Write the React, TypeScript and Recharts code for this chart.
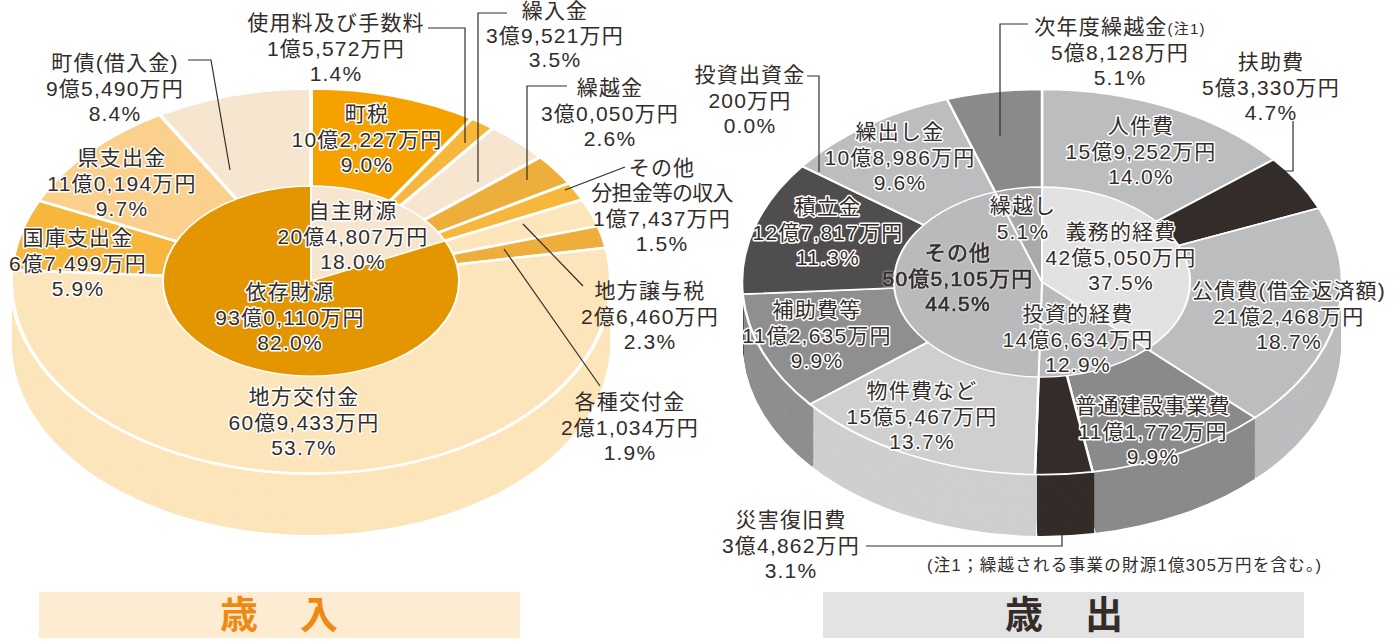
import React from 'react';
import { PieChart, Pie } from 'recharts';

// all amounts in 万円, clockwise from 12 o'clock
const revenueNames = ['町税', '使用料及び手数料', '繰入金', '繰越金', '分担金等の収入', '地方譲与税', '各種交付金', '地方交付金', '国庫支出金', '県支出金', '町債(借入金)'];
const revenueValues = [102227, 15572, 39521, 30050, 17437, 26460, 21034, 609433, 67499, 110194, 95490];
const revenuePercents = ['9.0', '1.4', '3.5', '2.6', '1.5', '2.3', '1.9', '53.7', '5.9', '9.7', '8.4'];
const revenueColors = ['#f5a200', '#f7b63c', '#f6e6d0', '#edae3c', '#f7b63c', '#fde5bb', '#edae3c', '#fde5bb', '#f7b63c', '#fad08c', '#f6e6d0'];

const revenueGroupNames = ['自主財源', '依存財源'];
const revenueGroupValues = [204807, 930110];
const revenueGroupPercents = ['18.0', '82.0'];
const revenueGroupColors = ['#f6e6d0', '#e39600'];

const spendingNames = ['人件費', '扶助費', '公債費(借金返済額)', '普通建設事業費', '災害復旧費', '物件費など', '補助費等', '積立金', '投資出資金', '繰出し金', '次年度繰越金'];
const spendingValues = [159252, 53330, 212468, 111772, 34862, 155467, 112635, 127817, 200, 108986, 58128];
const spendingPercents = ['14.0', '4.7', '18.7', '9.9', '3.1', '13.7', '9.9', '11.3', '0.0', '9.6', '5.1'];
const spendingColors = ['#bcbdbf', '#332c29', '#bcbdbf', '#8a8a8a', '#332c29', '#cfcfcf', '#8f8f8f', '#504d4e', '#504d4e', '#bcbdbf', '#8a8a8a'];

const spendingGroupNames = ['義務的経費', '投資的経費', 'その他', '繰越し'];
const spendingGroupValues = [425050, 146634, 505105, 58128];
const spendingGroupPercents = ['37.5', '12.9', '44.5', '5.1'];
const spendingGroupColors = ['#e2e2e2', '#b9babc', '#b9babc', '#a9a9a9'];

const INK = '#332c29';
const FONT = '"Liberation Sans", "Noto Sans CJK JP", sans-serif';
const SQUASH = 0.642;
const RIM = 299;
const HUB = 148;
const DEPTH = 62; // wall height on screen

const formatYen = (v: number) => {
  const oku = Math.floor(v / 10000);
  const man = v % 10000;
  if (!oku) return `${man}万円`;
  const s = String(man).padStart(4, '0');
  return `${oku}億${s[0]},${s.slice(1)}万円`;
};

const toSlices = (names: string[], values: number[], colors: string[]) =>
  names.map((name, i) => ({ name, value: values[i], fill: colors[i] }));

// label spots, same order as the name arrays
const revenueSpots: any[] = [
  { x: 367, y: 114, halo: true }, { x: 336, y: 23 }, { x: 555, y: 11, gap: 24.5 }, { x: 610, y: 88 },
  { x: 662, y: 193, headSpacing: -0.8 }, { x: 650, y: 291 }, { x: 630, y: 402 }, { x: 304, y: 397, halo: true },
  { x: 78, y: 238, halo: true }, { x: 122, y: 158, halo: true }, { x: 115, y: 63 },
];
const revenueGroupSpots: any[] = [{ x: 353, y: 211, halo: true }, { x: 290, y: 292, halo: true }];
const spendingSpots: any[] = [
  { x: 1141, y: 126, halo: true }, { x: 1271, y: 62 }, { x: 1289, y: 291, halo: true },
  { x: 1153, y: 406, halo: true }, { x: 791, y: 520 }, { x: 922, y: 391, halo: true },
  { x: 817, y: 310, halo: true }, { x: 828, y: 207, halo: true }, { x: 750, y: 75 },
  { x: 900, y: 132, halo: true }, { x: 1120, y: 27 },
];
const spendingGroupSpots: any[] = [
  { x: 1121, y: 232, halo: true }, { x: 1078, y: 314, halo: true }, { x: 958, y: 253, heavy: true }, { x: 1023, y: 206, halo: true },
];

const revenueLeaders = [
  '188,60 211,60 230,170', '428,28 465,28 465,143', '507,13 478,13 478,182', '567,86 527,86 527,180',
  '625,167 565,190', '583,286 523,224', '504,249 600,386',
];
const spendingLeaders = [
  '807,76 819,76 819,172', '1028,24 1000,24 1000,136', '1293,121 1293,171 1281,171', '866,546 1062,546 1062,505',
];

const LINE_GAP = 25.6;

const Block = ({ x, y, lines, halo, heavy, note, gap = LINE_GAP, headSpacing }: {
  x: number; y: number; lines: string[]; halo?: boolean; heavy?: boolean; note?: string; gap?: number; headSpacing?: number;
}) => (
  <text
    textAnchor="middle"
    fontSize={21}
    letterSpacing={1.2}
    fill={INK}
    stroke={heavy ? INK : halo ? '#fff' : 'none'}
    strokeWidth={heavy ? 0.6 : halo ? 3 : 0}
    strokeLinejoin="round"
    style={{ paintOrder: 'stroke', filter: heavy ? 'drop-shadow(0 0 1px #fff)' : undefined }}
  >
    {lines.map((line, i) => (
      <tspan key={i} x={x} y={y + 7 + i * gap} letterSpacing={i === 0 ? headSpacing : undefined}>
        {line}
        {i === 0 && note ? <tspan fontSize={15}>{note}</tspan> : null}
      </tspan>
    ))}
  </text>
);

type Slice = { name: string; value: number; fill: string };

const Disc = ({ cx, screenCy, rim, hub, rimStroke, hubStroke, seam }: {
  cx: number; screenCy: number; rim: Slice[]; hub: Slice[]; rimStroke: number; hubStroke: number; seam: number;
}) => {
  const cyChart = 310;
  const wallUnits = DEPTH / SQUASH;
  const steps: number[] = [];
  for (let d = wallUnits; d > 0; d -= 1.5) steps.push(d);
  return (
    <div style={{ position: 'absolute', left: cx - 310, top: screenCy - cyChart * SQUASH, transform: `scaleY(${SQUASH})`, transformOrigin: 'top left' }}>
      <PieChart width={620} height={730} margin={{ top: 0, right: 0, bottom: 0, left: 0 }}>
        {steps.map((d) => (
          <Pie key={d} data={rim} dataKey="value" cx={310} cy={cyChart + d} outerRadius={RIM} innerRadius={0}
            startAngle={90} endAngle={-270} paddingAngle={seam} stroke="none" isAnimationActive={false} />
        ))}
        <Pie data={rim} dataKey="value" cx={310} cy={cyChart} outerRadius={RIM + 1} innerRadius={0}
          startAngle={90} endAngle={-270} stroke="#fff" strokeWidth={rimStroke} isAnimationActive={false} />
        <Pie data={hub} dataKey="value" cx={310} cy={cyChart} outerRadius={HUB} innerRadius={0}
          startAngle={90} endAngle={-270} stroke="#fff" strokeWidth={hubStroke} isAnimationActive={false} />
      </PieChart>
    </div>
  );
};

const Banner = ({ x, fill, color, chars, charX }: { x: number; fill: string; color: string; chars: string[]; charX: number[] }) => (
  <g>
    <rect x={x} y={592} width={481} height={46} fill={fill} />
    {chars.map((c, i) => (
      <text key={c} x={charX[i]} y={628} textAnchor="middle" fontSize={38} fontWeight={700} fill={color} fontFamily='"Noto Sans CJK JP", sans-serif'>{c}</text>
    ))}
  </g>
);

export default function App() {
  const rimLabels = (names: string[], values: number[], percents: string[], spots: any[]) =>
    names.map((name, i) => (
      <Block key={name} {...spots[i]}
        lines={[name, formatYen(values[i]), `${percents[i]}%`]} note={name === '次年度繰越金' ? '(注1)' : undefined} />
    ));

  return (
    <div style={{ position: 'absolute', left: 0, top: 0, width: 1398, height: 641, overflow: 'hidden', background: '#fff', fontFamily: FONT }}>
      <Disc cx={311} screenCy={281} rim={toSlices(revenueNames, revenueValues, revenueColors)}
        hub={toSlices(revenueGroupNames, revenueGroupValues, revenueGroupColors)} rimStroke={4} hubStroke={2} seam={0.3} />
      <Disc cx={1042} screenCy={282} rim={toSlices(spendingNames, spendingValues, spendingColors)}
        hub={toSlices(spendingGroupNames, spendingGroupValues, spendingGroupColors)} rimStroke={2.5} hubStroke={2} seam={0.3} />

      <svg width={1398} height={641} style={{ position: 'absolute', left: 0, top: 0 }}>
        {[...revenueLeaders, ...spendingLeaders].map((points) => (
          <polyline key={points} points={points} fill="none" stroke={INK} strokeWidth={1.2} />
        ))}

        {rimLabels(revenueNames, revenueValues, revenuePercents, revenueSpots)}
        {rimLabels(revenueGroupNames, revenueGroupValues, revenueGroupPercents, revenueGroupSpots)}
        <Block x={662} y={168} lines={['その他']} />

        {rimLabels(spendingNames, spendingValues, spendingPercents, spendingSpots)}
        {rimLabels(spendingGroupNames.slice(0, 3), spendingGroupValues, spendingGroupPercents, spendingGroupSpots)}
        <Block x={1023} y={206} halo lines={[spendingGroupNames[3], `${spendingGroupPercents[3]}%`]} />

        <text x={927} y={571} fontSize={16.5} fill={INK} textLength={394} lengthAdjust="spacing">(注1；繰越される事業の財源1億305万円を含む。)</text>

        <Banner x={39} fill="#fdebd2" color="#ee8a12" chars={['歳', '入']} charX={[239, 319]} />
        <Banner x={823} fill="#e3e3e3" color={INK} chars={['歳', '出']} charX={[1024, 1104]} />
      </svg>
    </div>
  );
}
